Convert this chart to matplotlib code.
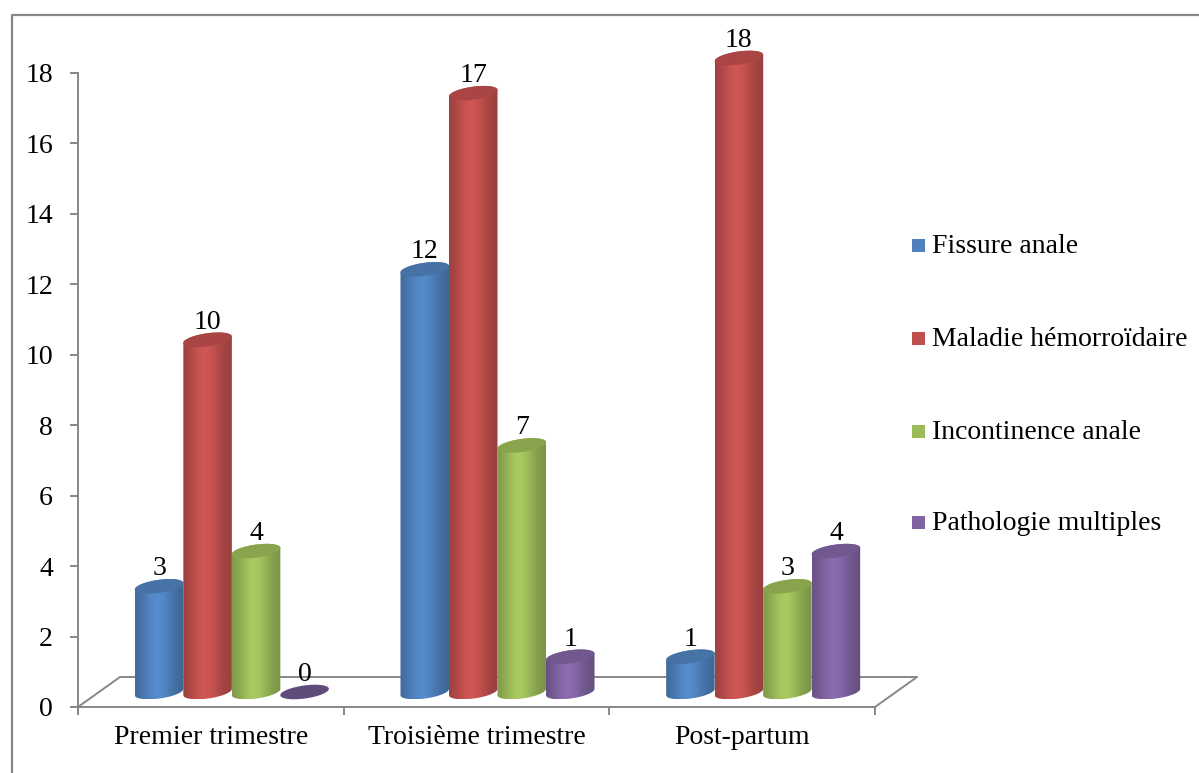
import numpy as np
import matplotlib
matplotlib.use("Agg")
import matplotlib.pyplot as plt
from matplotlib.patches import Polygon
from matplotlib.lines import Line2D
from matplotlib.patches import Rectangle

categories = ["Premier trimestre", "Troisième trimestre", "Post-partum"]
series = ["Fissure anale", "Maladie hémorroïdaire", "Incontinence anale", "Pathologie multiples"]
fissure = [3, 12, 1]
hemorroides = [10, 17, 18]
incontinence = [4, 7, 3]
multiples = [0, 1, 4]
values = [fissure, hemorroides, incontinence, multiples]
colors = ["#4F81BD", "#C0504D", "#9BBB59", "#8064A2"]
yticks = list(range(0, 20, 2))

W, H = 1199, 773
FS = 20
plt.rcParams['font.family'] = ['Liberation Serif', 'DejaVu Serif']
fig = plt.figure(figsize=(W / 100, H / 100), dpi=100)

# plot area in pixels
L, R, T, B = 78, 875, 73, 707
ax = fig.add_axes([L / W, (H - B) / H, (R - L) / W, (B - T) / H])
ax.set_xlim(-0.5, len(categories) - 0.5)
ax.set_ylim(0, 18)
sx = (len(categories)) / (R - L)   # data per px (x)
sy = 18 / (B - T)                  # data per px (y)

gray = "#878787"
for s in ["top", "right"]:
    ax.spines[s].set_visible(False)
for s in ["left", "bottom"]:
    ax.spines[s].set_color(gray)
    ax.spines[s].set_linewidth(1.4)
ax.spines["left"].set_bounds(-5 * sy, 18)

ax.set_yticks(yticks)
ax.set_yticklabels([str(v) for v in yticks])
ax.tick_params(axis="y", length=6, width=1.4, color=gray, pad=12, labelsize=FS)
ax.set_xticks(np.arange(-0.5, len(categories), 1.0))
ax.set_xticklabels([])
ax.set_xticks(np.arange(len(categories)), minor=True)
ax.set_xticklabels(categories, minor=True)
ax.tick_params(axis="x", which="major", length=6, width=1.4, color=gray)
ax.tick_params(axis="x", which="minor", length=0, pad=13, labelsize=FS)

# floor
depth_x, depth_y = 42 * sx, 30 * sy
x0, x1 = -0.5, len(categories) - 0.5
floor = [(x0, 0), (x0 + depth_x, depth_y), (x1 + depth_x, depth_y), (x1, 0)]
ax.add_line(Line2D([p[0] for p in floor], [p[1] for p in floor], color=gray, lw=1.4,
                   clip_on=False, zorder=1))

# cylinders
spacing = 48.5
a_px, b_px = 24.5, 6.5
theta = np.deg2rad(8)


def ell(cx, cy, t):
    px = a_px * np.cos(t) * np.cos(theta) - b_px * np.sin(t) * np.sin(theta)
    py = a_px * np.cos(t) * np.sin(theta) + b_px * np.sin(t) * np.cos(theta)
    return cx + px * sx, cy + py * sy


def shade(c, m):
    rgb = np.array(matplotlib.colors.to_rgb(c))
    return np.clip(rgb * m, 0, 1)


base_y = 15 * sy
for i in range(len(categories)):
    for k in range(len(series)):
        v = values[k][i]
        cx = i + (k - 1.5) * spacing * sx + 21 * sx
        top = base_y + v
        z = 3 + k
        if v == 0:
            t = np.linspace(0, 2 * np.pi, 80)
            ex, ey = ell(cx, base_y, t)
            ax.add_patch(Polygon(np.c_[ex, ey], closed=True, fc=shade(colors[k], 0.75),
                                 ec="none", zorder=z, clip_on=False))
        else:
            tb = np.linspace(0, -np.pi, 60)
            bx, by = ell(cx, base_y, tb)
            tt = np.linspace(np.pi, 0, 60)
            tx, ty = ell(cx, top, tt)
            body = Polygon(np.r_[np.c_[bx, by], np.c_[tx, ty]], closed=True,
                           fc="none", ec="none", zorder=z, clip_on=False)
            ax.add_patch(body)
            f = np.linspace(0, 1, 200)
            m = 0.78 + 0.30 * np.exp(-((f - 0.45) / 0.33) ** 2)
            img = np.array([shade(colors[k], mm) for mm in m])[None, :, :]
            xmin, xmax = bx.min(), bx.max()
            ymin, ymax = by.min(), ty.max()
            im = ax.imshow(img, extent=[xmin, xmax, ymin, ymax], aspect="auto",
                           zorder=z, interpolation="bilinear")
            im.set_clip_box(fig.bbox)
            im.set_clip_path(body)
            t = np.linspace(0, 2 * np.pi, 80)
            ex, ey = ell(cx, top, t)
            ax.add_patch(Polygon(np.c_[ex, ey], closed=True, fc=shade(colors[k], 0.88),
                                 ec="none", zorder=z + 0.1, clip_on=False))
        ax.annotate(str(v), (cx, top), xytext=(0, 8), textcoords="offset points",
                    ha="center", va="baseline", fontsize=FS, zorder=10,
                    annotation_clip=False)

ax.set_xlim(-0.5, len(categories) - 0.5)
ax.set_ylim(0, 18)

# legend
leg_y = [253, 346, 439, 530]
for k, name in enumerate(series):
    yb = leg_y[k]
    fig.add_artist(Rectangle((912 / W, (H - yb + 1) / H), 13 / W, 13 / H,
                             transform=fig.transFigure, fc=colors[k], ec="none"))
    fig.text(932 / W, (H - yb) / H, name, fontsize=FS, va="baseline", ha="left")

# outer border (left and top)
fig.add_artist(Line2D([12 / W, 12 / W, 1.01], [0, (H - 15) / H, (H - 15) / H],
                      transform=fig.transFigure, color=gray, lw=1.6))

fig.savefig("out.png", dpi=100)
